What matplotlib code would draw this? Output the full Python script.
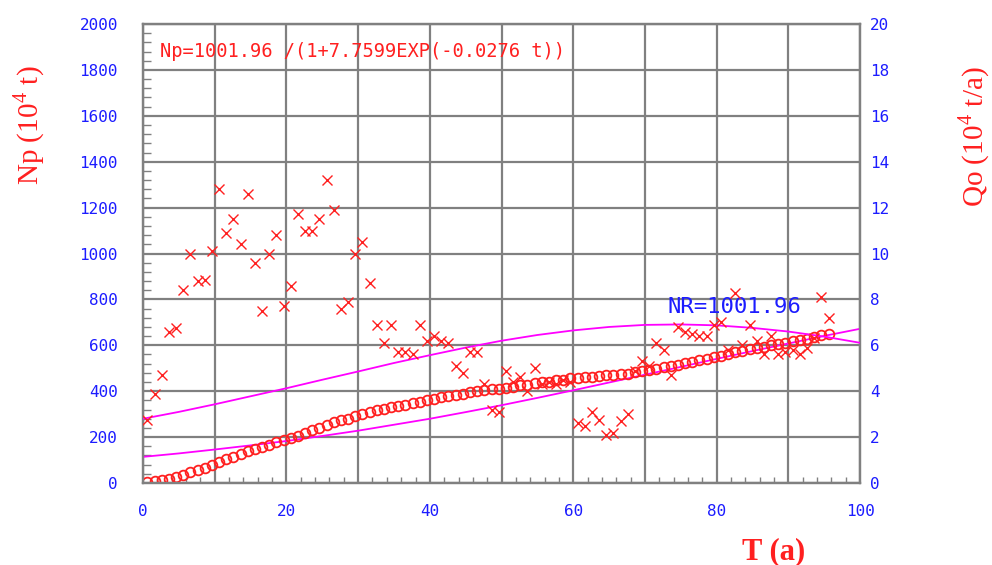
#plot.py
# logistic fit of cumulative oil production Np and annual rate Qo
import numpy as np
import matplotlib
matplotlib.use("Agg")
import matplotlib.pyplot as plt
from matplotlib.ticker import MultipleLocator, FuncFormatter

# years of the measured points
years = np.arange(0.6, 96, 1.0)

# annual production Qo, 10^4 t/a (right axis)
qo = [2.75, 3.9, 4.7, 6.6, 6.75, 8.4, 10.0, 8.8, 8.85, 10.1,
      12.8, 10.9, 11.5, 10.4, 12.6, 9.6, 7.5, 10.0, 10.8, 7.7,
      8.6, 11.7, 11.0, 11.0, 11.5, 13.2, 11.9, 7.6, 7.9, 10.0,
      10.5, 8.7, 6.9, 6.1, 6.9, 5.7, 5.7, 5.6, 6.9, 6.2,
      6.4, 6.2, 6.1, 5.1, 4.8, 5.7, 5.7, 4.3, 3.2, 3.1,
      4.9, 4.4, 4.6, 4.0, 5.0, 4.3, 4.4, 4.3, 4.5, 4.4,
      2.6, 2.5, 3.1, 2.75, 2.1, 2.2, 2.7, 3.0, 4.9, 5.3,
      5.1, 6.1, 5.8, 4.7, 6.8, 6.6, 6.5, 6.4, 6.4, 6.9,
      7.0, 5.8, 8.3, 6.0, 6.9, 6.2, 5.6, 6.4, 5.6, 5.7,
      5.8, 5.6, 5.9, 6.3, 8.1, 7.2]

# cumulative production Np, 10^4 t (left axis)
npc = [3, 7, 12, 19, 27, 36, 47, 57, 67, 78,
       91, 103, 115, 126, 139, 149, 157, 167, 178, 186,
       195, 207, 218, 229, 241, 254, 266, 273, 281, 291,
       302, 310, 317, 323, 330, 336, 342, 347, 354, 360,
       367, 373, 379, 384, 389, 395, 400, 405, 408, 411,
       416, 420, 425, 429, 434, 438, 442, 447, 451, 456,
       458, 461, 464, 467, 469, 471, 474, 477, 482, 487,
       492, 498, 504, 509, 515, 522, 528, 535, 541, 548,
       555, 561, 569, 575, 582, 588, 594, 600, 606, 612,
       617, 623, 629, 635, 643, 651]

# fitted curves every 5 years
fit_t = [0, 5, 10, 15, 20, 25, 30, 35, 40, 45, 50,
         55, 60, 65, 70, 75, 80, 85, 90, 95, 100]
np_fit = [114, 129, 146, 164, 183, 205, 228, 254, 280, 309, 339,
          371, 404, 438, 472, 506, 541, 575, 608, 641, 672]
qo_fit = [2.80, 3.10, 3.43, 3.78, 4.13, 4.50, 4.86, 5.23, 5.57, 5.90, 6.20,
          6.45, 6.65, 6.80, 6.89, 6.91, 6.87, 6.76, 6.60, 6.38, 6.11]

red = "#ff2020"
blue = "#1c1cff"
grey = "#808080"
mag = "#ff00ff"

plt.rcParams["mathtext.fontset"] = "stix"

fig = plt.figure(figsize=(9.92, 5.65), dpi=100)
ax = fig.add_axes([0.1442, 0.1451, 0.7228, 0.8124])
ax.set_xlim(0, 100)
ax.set_ylim(0, 2000)
ax2 = ax.twinx()
ax2.set_ylim(0, 20)

ax.xaxis.set_major_locator(MultipleLocator(10))
ax.xaxis.set_minor_locator(MultipleLocator(2))
ax.xaxis.set_major_formatter(FuncFormatter(lambda v, p: "%d" % v if int(round(v)) % 20 == 0 else ""))
ax.yaxis.set_major_locator(MultipleLocator(200))
ax.yaxis.set_minor_locator(MultipleLocator(40))
ax2.yaxis.set_major_locator(MultipleLocator(2))

ax.grid(True, which="major", color=grey, lw=1.6)
ax.set_axisbelow(True)

ax.tick_params(axis="x", which="major", length=0, pad=15, labelcolor=blue, labelsize=11.5)
ax.tick_params(axis="x", which="minor", direction="in", length=4, width=1, color=grey)
ax.tick_params(axis="y", which="major", length=0, pad=18, labelcolor=blue, labelsize=11.5)
ax.tick_params(axis="y", which="minor", direction="in", length=6, width=1, color=grey)
ax2.tick_params(axis="y", which="major", length=0, pad=7, labelcolor=blue, labelsize=11.5)
for a in (ax, ax2):
    for lab in a.get_xticklabels() + a.get_yticklabels():
        lab.set_family("DejaVu Sans Mono")
    for s in a.spines.values():
        s.set_color(grey)
        s.set_linewidth(1.6)

# fitted curves
ax.plot(fit_t, np_fit, color=mag, lw=1.3, zorder=3)
ax2.plot(fit_t, qo_fit, color=mag, lw=1.3, zorder=3)

# measured points
ax2.plot(years, qo, ls="none", marker="x", ms=7.5, mew=1.0, color=red, zorder=4)
ax.plot(years, npc, ls="none", marker="o", ms=7, mew=1.3, mfc="none", color=red, zorder=4)

ax.text(2.4, 1882, "Np=1001.96 /(1+7.7599EXP(-0.0276 t))", color=red,
        fontsize=13.5, family="DejaVu Sans Mono", va="center", ha="left")
ax.text(73.2, 768, "NR=1001.96", color=blue, fontsize=16,
        family="DejaVu Sans Mono", va="center", ha="left", zorder=5)

fig.text(30 / 992, 1 - 125 / 565, r"Np (10$^{\mathregular{4}}$ t)", color=red,
         rotation=90, ha="center", va="center", fontsize=21, family="Liberation Serif")
fig.text(975 / 992, 1 - 137 / 565, r"Qo (10$^{\mathregular{4}}$ t/a)", color=red,
         rotation=90, ha="center", va="center", fontsize=21, family="Liberation Serif")
fig.text(774 / 992, 1 - 552 / 565, "T (a)", color=red, ha="center", va="center",
         fontsize=22, family="Liberation Serif", fontweight="bold")

fig.savefig("out.png", dpi=100)
